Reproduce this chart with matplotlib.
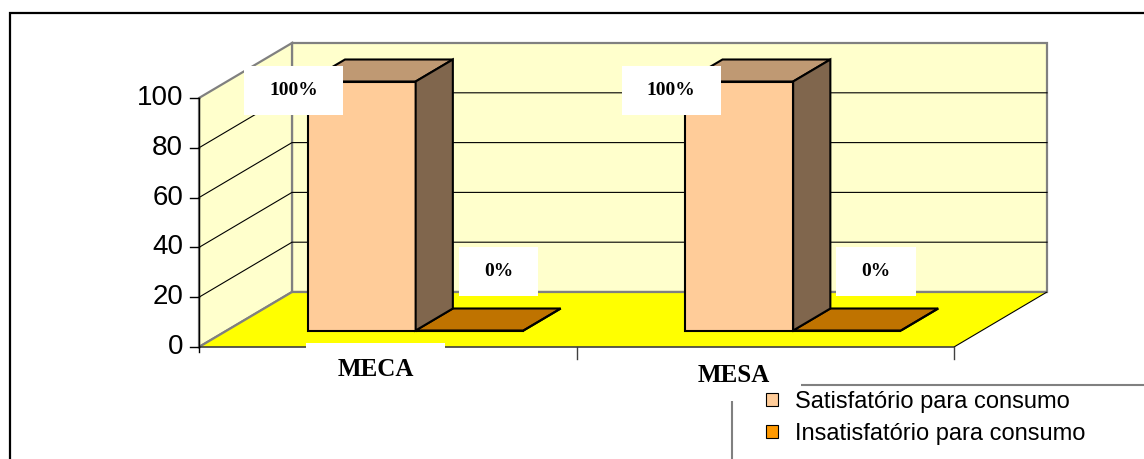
import matplotlib.pyplot as plt
from matplotlib.patches import Polygon, Rectangle, Patch
from matplotlib.colors import to_rgb

categories = ["MECA", "MESA"]
series_names = ["Satisfatório para consumo", "Insatisfatório para consumo"]
satisfatorio = [100, 100]
insatisfatorio = [0, 0]
y_ticks = [0, 20, 40, 60, 80, 100]

series_values = [satisfatorio, insatisfatorio]
series_colors = ["#FFCC99", "#FF9900"]

W, H = 1144, 459
fig = plt.figure(figsize=(W / 100, H / 100), dpi=100)
ax = fig.add_axes([0, 0, 1, 1])
ax.axis("off")

# pixel layout of the pseudo-3d plot box
X0, Y0 = 199, 347          # front-left corner of the floor
CAT_PX = 377.5             # one category on the front edge
VAL_PX = 2.49              # one unit of value
DEPTH_PX = (93, 55)        # shift from front plane to back wall
ax.set_xlim(-X0 / CAT_PX, (W - X0) / CAT_PX)
ax.set_ylim(-(H - Y0) / VAL_PX, Y0 / VAL_PX)
DX = DEPTH_PX[0] / CAT_PX
DY = DEPTH_PX[1] / VAL_PX


def P(x, v, d):
    return (x + DX * d, v + DY * d)


def shade(c, k):
    r, g, b = to_rgb(c)
    return (r * k, g * k, b * k)


n = len(categories)
vmax = y_ticks[-1]
wall = "#FFFFCC"
edge_gray = "#808080"

# walls
ax.add_patch(Polygon([P(0, 0, 1), P(n, 0, 1), P(n, vmax, 1), P(0, vmax, 1)],
                     closed=True, fc=wall, ec=edge_gray, lw=1.6, zorder=1))
ax.add_patch(Polygon([P(0, 0, 0), P(0, 0, 1), P(0, vmax, 1), P(0, vmax, 0)],
                     closed=True, fc=wall, ec=edge_gray, lw=1.6, zorder=1))

# gridlines on side and back wall
for v in y_ticks[1:-1]:
    pts = [P(0, v, 0), P(0, v, 1), P(n, v, 1)]
    ax.plot([p[0] for p in pts], [p[1] for p in pts], color="black", lw=0.8, zorder=1.5)

# floor
ax.add_patch(Polygon([P(0, 0, 0), P(n, 0, 0), P(n, 0, 1), P(0, 0, 1)],
                     closed=True, fc="#FFFF00", ec="none", zorder=2))
for a, b, col, lw in [((0, 0, 1), (n, 0, 1), edge_gray, 1.6),
                      ((0, 0, 0), (0, 0, 1), edge_gray, 1.6),
                      ((n, 0, 0), (n, 0, 1), "black", 0.8),
                      ((0, 0, 0), (n, 0, 0), "#404040", 1.2)]:
    pa, pb = P(*a), P(*b)
    ax.plot([pa[0], pb[0]], [pa[1], pb[1]], color=col, lw=lw, zorder=2.2,
            solid_capstyle="butt")

# value axis
ax.plot([0, 0], [-2, vmax], color="black", lw=1.0, zorder=2.3)
tick = 9 / CAT_PX
for v in y_ticks:
    ax.plot([-tick, 0], [v, v], color="black", lw=1.0, zorder=2.3)
    ax.text(-16 / CAT_PX, v, str(v), ha="right", va="center", fontsize=20,
            family="Liberation Sans", zorder=2.3)

# category ticks
for i in range(1, n + 1):
    ax.plot([i, i], [0, -12 / VAL_PX], color="#404040", lw=1.0, zorder=2.3)

# bars
gap = 1.5
bw = 1 / (len(series_values) + gap)
d0, d1 = 0.3, 0.7
label_offsets = [(-68, -9), (29, 59)]
for i in range(n):
    for j in reversed(range(len(series_values))):
        v = series_values[j][i]
        x0 = i + bw * gap / 2 + j * bw
        x1 = x0 + bw
        c = series_colors[j]
        faces = [
            ([P(x0, 0, d0), P(x1, 0, d0), P(x1, v, d0), P(x0, v, d0)], c),
            ([P(x0, v, d0), P(x1, v, d0), P(x1, v, d1), P(x0, v, d1)], shade(c, 0.75)),
            ([P(x1, 0, d0), P(x1, 0, d1), P(x1, v, d1), P(x1, v, d0)], shade(c, 0.5)),
        ]
        for pts, fc in faces:
            ax.add_patch(Polygon(pts, closed=True, fc=fc, ec="black", lw=1.5,
                                 joinstyle="miter", zorder=3))
        ax.annotate(f"{v}%", xy=P((x0 + x1) / 2, v, d0), xytext=label_offsets[j],
                    textcoords="offset pixels", ha="center", va="center",
                    fontsize=14, family="Liberation Serif", weight="bold", zorder=6,
                    bbox=dict(boxstyle="square,pad=1.3", fc="white", ec="none",
                              mutation_aspect=0.62))

# legend frame and outer chart border
ax.add_patch(Rectangle((732 / W, -0.1), 1, 1 - 385 / H + 0.1, transform=fig.transFigure,
                       fill=False, ec=edge_gray, lw=1.5, zorder=4))
ax.add_patch(Rectangle((10 / W, -0.1), 1.2, 1 - 13 / H + 0.1, transform=fig.transFigure,
                       fill=False, ec="black", lw=1.6, zorder=7))

# category labels
cat_offsets = [(-12, -22), (-32, -28)]
for i, name in enumerate(categories):
    ax.annotate(name, xy=P(i + 0.5, 0, 0), xytext=cat_offsets[i],
                textcoords="offset pixels", ha="center", va="center",
                fontsize=18, family="Liberation Serif", weight="bold", zorder=6,
                bbox=dict(boxstyle="square,pad=1.25", fc="white", ec="none",
                          mutation_aspect=0.45))

handles = [Patch(fc=c, ec="black", lw=0.8) for c in series_colors]
leg = ax.legend(handles, series_names, loc="upper left",
                bbox_to_anchor=(766 / W, 1 - 391 / H), bbox_transform=fig.transFigure,
                frameon=False, borderpad=0, borderaxespad=0, handlelength=0.52,
                handleheight=0.45, handletextpad=0.72, labelspacing=0.42,
                prop=dict(family="Liberation Sans", size=17))
leg.set_zorder(8)

fig.savefig("out.png", dpi=100)
